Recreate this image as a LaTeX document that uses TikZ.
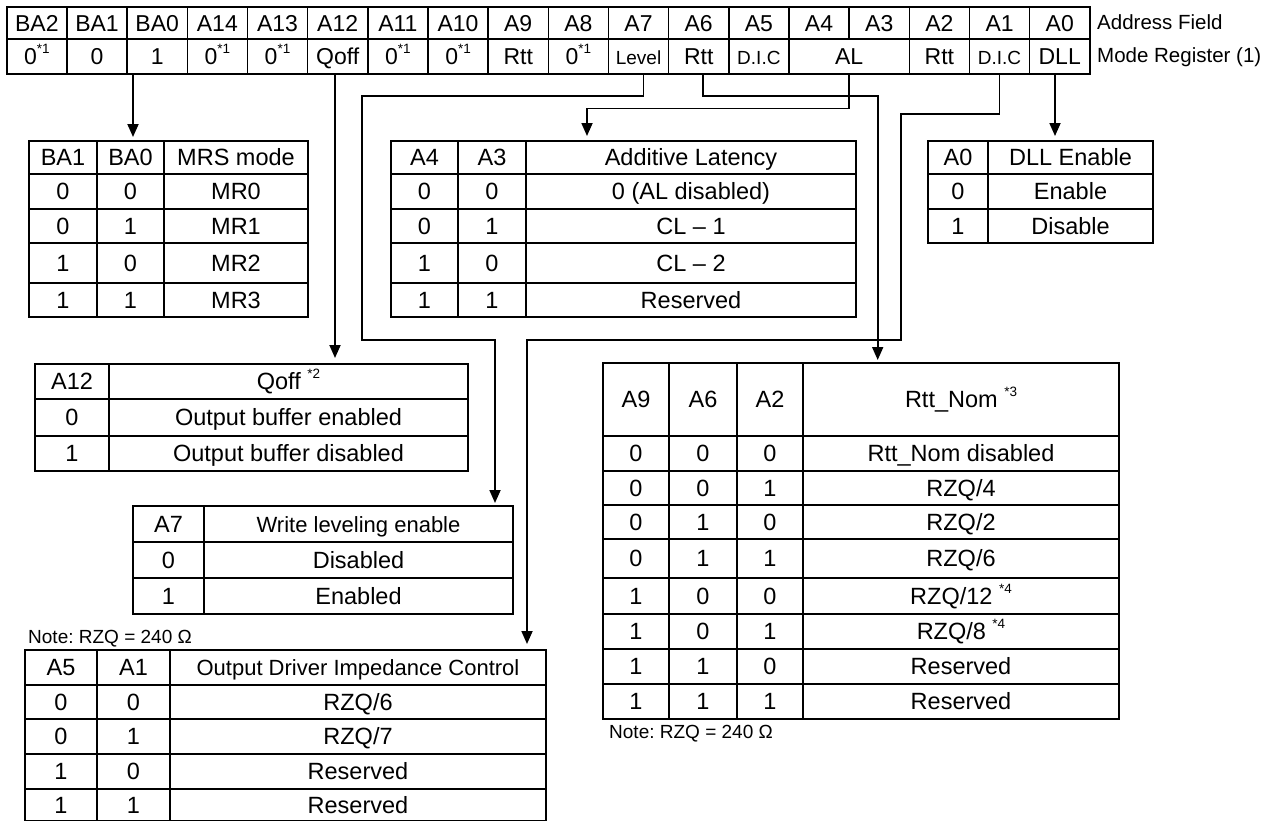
\documentclass[tikz,border=0pt]{standalone}
\usepackage{fontspec}
\setmainfont{Liberation Sans}
\usetikzlibrary{arrows.meta}

\newcommand{\fn}[1]{\smash{\raisebox{0.48em}{\fontsize{13.5}{14}\selectfont *#1}}}
\newcommand{\zr}{0\fn{1}}
\newcommand{\sm}[1]{{\fontsize{19}{21}\selectfont #1}}
\newcommand{\nar}[1]{{\fontsize{22}{24}\selectfont #1}}
\frenchspacing

\tikzset{
  regcell/.style={draw, line width=1.5pt, minimum width=60.17pt, inner sep=0pt,
    text height=16.5pt, text depth=0pt, font=\fontsize{23}{25}\selectfont},
  rule/.style={line width=1.5pt, line cap=rect},
  wire/.style={line width=1.8pt},
  link/.style={wire, -{Triangle[width=11pt,length=13pt]}},
  txt/.style={inner sep=0pt, text height=16.8pt, text depth=0pt, font=\fontsize{23.5}{26}\selectfont},
  side/.style={inner sep=0pt, anchor=west, text height=14.7pt, text depth=0pt, font=\fontsize{20.5}{23}\selectfont},
  note/.style={inner sep=0pt, anchor=west, text height=13.6pt, text depth=0pt, font=\fontsize{19}{21}\selectfont}
}

\begin{document}
\begin{tikzpicture}[x=1pt, y=-1pt]
  \useasboundingbox[fill=white] (0,0) rectangle (1274,822);

  % register: address field and mode register
  \foreach \lbl [count=\i from 0] in {BA2,BA1,BA0,A14,A13,A12,A11,A10,A9,A8,A7,A6,A5,A4,A3,A2,A1,A0}
    \node[regcell, minimum height=32pt, anchor=north west] (f\i) at ({6+60.17*\i},6) {\lbl};
  \foreach \i/\lbl in {0/\zr,1/0,2/1,3/\zr,4/\zr,5/Qoff,6/\zr,7/\zr,8/Rtt,9/\zr,10/\sm{Level},11/Rtt,12/\sm{D.I.C},15/Rtt,16/\sm{D.I.C},17/DLL}
    \node[regcell, minimum height=35pt, anchor=north west] (m\i) at ({6+60.17*\i},38) {\lbl};
  \node[regcell, minimum width=120.34pt, minimum height=35pt, anchor=north west] (m13) at ({6+60.17*13},38) {AL};
  \node[side] (addr) at (1097,22) {Address Field};
  \node[side] (mode) at (1097,55.5) {Mode Register (1)};

  % MRS mode
  \foreach \y in {141,174,209,243,283,317} \draw[rule] (29,\y) -- (308,\y);
  \foreach \x in {29,97,164,308} \draw[rule] (\x,141) -- (\x,317);
  \foreach \y/\a/\b/\c [count=\r] in {157.5/BA1/BA0/MRS mode,191.5/0/0/MR0,226/0/1/MR1,263/1/0/MR2,300/1/1/MR3}{
    \node[txt] (mrs-\r-a) at (63,\y) {\a};
    \node[txt] (mrs-\r-b) at (130.5,\y) {\b};
    \node[txt] (mrs-\r-c) at (236,\y) {\c};
  }

  % additive latency
  \foreach \y in {141,174,209,243,283,317} \draw[rule] (391,\y) -- (856,\y);
  \foreach \x in {391,458,526,856} \draw[rule] (\x,141) -- (\x,317);
  \foreach \y/\a/\b/\c [count=\r] in {157.5/A4/A3/Additive Latency,191.5/0/0/{0 (AL disabled)},226/0/1/{CL -- 1},263/1/0/{CL -- 2},300/1/1/Reserved}{
    \node[txt] (al-\r-a) at (424.5,\y) {\a};
    \node[txt] (al-\r-b) at (492,\y) {\b};
    \node[txt] (al-\r-c) at (691,\y) {\c};
  }

  % DLL enable
  \foreach \y in {141,174,209,243} \draw[rule] (928,\y) -- (1153,\y);
  \foreach \x in {928,988,1153} \draw[rule] (\x,141) -- (\x,243);
  \foreach \y/\a/\b [count=\r] in {157.5/A0/DLL Enable,191.5/0/Enable,226/1/Disable}{
    \node[txt] (dll-\r-a) at (958,\y) {\a};
    \node[txt] (dll-\r-b) at (1070.5,\y) {\b};
  }

  % Qoff
  \foreach \y in {364,399,436,471} \draw[rule] (35,\y) -- (468,\y);
  \foreach \x in {35,109,468} \draw[rule] (\x,364) -- (\x,471);
  \foreach \y/\a/\b [count=\r] in {381.5/A12/{Qoff \fn{2}},417.5/0/Output buffer enabled,453.5/1/Output buffer disabled}{
    \node[txt] (qo-\r-a) at (72,\y) {\a};
    \node[txt] (qo-\r-b) at (288.5,\y) {\b};
  }

  % write leveling
  \foreach \y in {506,542,578,614} \draw[rule] (133,\y) -- (513,\y);
  \foreach \x in {133,204,513} \draw[rule] (\x,506) -- (\x,614);
  \foreach \y/\a/\b [count=\r] in {524/A7/\nar{Write leveling enable},560/0/Disabled,596/1/Enabled}{
    \node[txt] (wl-\r-a) at (168.5,\y) {\a};
    \node[txt] (wl-\r-b) at (358.5,\y) {\b};
  }

  % output driver impedance control
  \node[note] (note1) at (28,637) {Note: RZQ = 240 Ω};
  \foreach \y in {650,685,719,754,789,820.5} \draw[rule] (25,\y) -- (546,\y);
  \foreach \x in {25,97,170,546} \draw[rule] (\x,650) -- (\x,820.5);
  \foreach \y/\a/\b/\c [count=\r] in {667.5/A5/A1/\nar{Output Driver Impedance Control},702/0/0/{RZQ/6},736.5/0/1/{RZQ/7},771.5/1/0/Reserved,805/1/1/Reserved}{
    \node[txt] (od-\r-a) at (61,\y) {\a};
    \node[txt] (od-\r-b) at (133.5,\y) {\b};
    \node[txt] (od-\r-c) at (358,\y) {\c};
  }

  % Rtt_Nom
  \foreach \y in {363,436,471,505,539,578,614,649,684,719} \draw[rule] (603,\y) -- (1119,\y);
  \foreach \x in {603,669,737,803,1119} \draw[rule] (\x,363) -- (\x,719);
  \foreach \y/\a/\b/\c/\d [count=\r] in {399.5/A9/A6/A2/{Rtt\_Nom \fn{3}},453.5/0/0/0/{Rtt\_Nom disabled},488/0/0/1/{RZQ/4},522/0/1/0/{RZQ/2},558.5/0/1/1/{RZQ/6},596/1/0/0/{RZQ/12 \fn{4}},631.5/1/0/1/{RZQ/8 \fn{4}},666.5/1/1/0/Reserved,701.5/1/1/1/Reserved}{
    \node[txt] (rt-\r-a) at (636,\y) {\a};
    \node[txt] (rt-\r-b) at (703,\y) {\b};
    \node[txt] (rt-\r-c) at (770,\y) {\c};
    \node[txt] (rt-\r-d) at (961,\y) {\d};
  }
  \node[note] (note2) at (609,732) {Note: RZQ = 240 Ω};

  % connectors
  \coordinate (mrs-in) at (133,137);
  \coordinate (qo-in) at (335,358);
  \coordinate (wl-in) at (495,503);
  \coordinate (rt-in) at (877.7,360);
  \coordinate (al-in) at (587,136);
  \coordinate (od-in) at (527,644);
  \coordinate (dll-in) at (1055,136);
  \draw[link] (m2.south -| mrs-in) -- (mrs-in);
  \draw[link] (m5.south -| qo-in) -- (qo-in);
  \draw[link] ([xshift=5pt]m10.south) |- (362,96) |- (495,340) -- (wl-in);
  \draw[link] ([xshift=4pt]m11.south) |- (877.7,96) -- (rt-in);
  \draw[link] (m13.south) |- (587,108.5) -- (al-in);
  \draw[link] (m16.south) |- (901,114) |- (527,340) -- (od-in);
  \draw[link] (m17.south -| dll-in) -- (dll-in);
\end{tikzpicture}
\end{document}
